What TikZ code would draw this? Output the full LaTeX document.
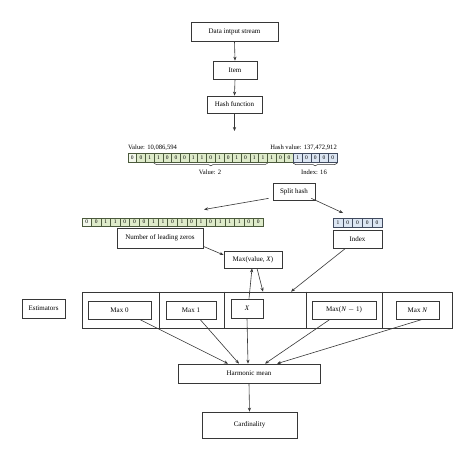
\documentclass[tikz,border=0pt]{standalone}
\usepackage{fontspec}
\setmainfont{Liberation Serif}
\usetikzlibrary{arrows.meta,decorations.pathreplacing,calc}
\definecolor{ln}{RGB}{55,55,55}
\definecolor{gfill}{RGB}{222,235,202}
\definecolor{gdraw}{RGB}{75,90,60}
\definecolor{bfill}{RGB}{220,230,243}
\definecolor{bdraw}{RGB}{65,75,95}
\begin{document}
\begin{tikzpicture}[x=1pt,y=-1pt,
  box/.style={draw=ln, line width=0.7pt, fill=white, inner sep=0pt, font=\fontsize{7}{8}\selectfont},
  gbit/.style={draw=gdraw, fill=gfill, line width=0.5pt, inner sep=0pt, font=\fontsize{5.5}{5.5}\selectfont},
  bbit/.style={draw=bdraw, fill=bfill, line width=0.5pt, inner sep=0pt, font=\fontsize{5.5}{5.5}\selectfont},
  lbl/.style={inner sep=0pt, font=\fontsize{6.6}{7}\selectfont},
  arr/.style={draw=ln, line width=0.6pt, -{Stealth[length=4pt,width=3.2pt]}},
  brc/.style={draw=ln, line width=0.5pt, decorate, decoration={brace, mirror, amplitude=2.5pt}}]
\useasboundingbox (0,0) rectangle (474,461);
\fill[white] (0,0) rectangle (474,461);

% top chain
\node[box, minimum width=87pt, minimum height=19pt] (din) at (234.5,31.5) {Data intput stream};
\node[box, minimum width=44pt, minimum height=18pt] (item) at (235,70) {Item};
\node[box, minimum width=55pt, minimum height=17pt] (hash) at (234.5,104.5) {Hash function};
\coordinate (hashend) at (234.5,131);

% first bit row
\foreach \b [count=\i] in {0,0,1,1,0,0,0,1,1,0,1,0,1,0,1,1,1,0,0,1,0,0,0,0} {
  \pgfmathsetmacro{\cx}{128+8.708*(\i-0.5)}
  \ifnum\i<20
    \ifnum\i=1
      \node[gbit, fill=gfill!35, minimum width=8.708pt, minimum height=9pt] (t\i) at (\cx,157.5) {\b};
    \else
      \node[gbit, minimum width=8.708pt, minimum height=9pt] (t\i) at (\cx,157.5) {\b};
    \fi
  \else
    \node[bbit, minimum width=8.708pt, minimum height=9pt] (t\i) at (\cx,157.5) {\b};
  \fi
}
\node[lbl, anchor=south west] (vlab) at (128,151) {Value: 10,086,594};
\node[lbl, anchor=south east] (hlab) at (337,151) {Hash value: 137,472,912};
\draw[brc] ($(t4.south west)+(0,1)$) -- ($(t16.south east)+(0,1)$);
\node[lbl] (v2) at (210,172.5) {Value: 2};
\draw[brc] ($(t20.south west)+(0,1)$) -- ($(t24.south east)+(0,1)$);
\node[lbl] (i16) at (314,172.5) {Index: 16};

\node[box, minimum width=42pt, minimum height=17pt] (split) at (294,191.5) {Split hash};

% second bit rows
\foreach \b [count=\i] in {0,0,1,1,0,0,0,1,1,0,1,0,1,0,1,1,1,0,0} {
  \pgfmathsetmacro{\cx}{82+9.526*(\i-0.5)}
  \ifnum\i=1
    \node[gbit, fill=gfill!35, minimum width=9.526pt, minimum height=8.5pt] (b\i) at (\cx,222) {\b};
  \else
    \node[gbit, minimum width=9.526pt, minimum height=8.5pt] (b\i) at (\cx,222) {\b};
  \fi
}
\foreach \b [count=\i] in {1,0,0,0,0} {
  \pgfmathsetmacro{\cx}{333+9.8*(\i-0.5)}
  \node[bbit, minimum width=9.8pt, minimum height=8.5pt] (c\i) at (\cx,222.5) {\b};
}

\node[box, minimum width=86pt, minimum height=20pt] (nlz) at (160,238) {Number of leading zeros};
\node[box, minimum width=49pt, minimum height=18pt] (index) at (357.5,239) {Index};
\node[box, minimum width=58pt, minimum height=17pt] (maxv) at (253,259.5) {Max(value, \textit{X})};

% estimators
\node[box, minimum width=43pt, minimum height=19pt] (est) at (43.5,308.5) {Estimators};
\node[box, minimum width=370pt, minimum height=36pt] (frame) at (267,310) {};
\foreach \xx in {159,224,306,382} {
  \draw[ln, line width=0.7pt] (\xx,0 |- frame.north) -- (\xx,0 |- frame.south);
}
\node[box, minimum width=63pt, minimum height=18pt] (max0) at (119.5,310) {Max 0};
\node[box, minimum width=50pt, minimum height=18pt] (max1) at (191,310) {Max 1};
\node[box, minimum width=32pt, minimum height=19pt] (xb) at (247,308.5) {\textit{X}};
\node[box, minimum width=64pt, minimum height=18pt] (maxn1) at (344,310) {Max(\textit{N} $-$ 1)};
\node[box, minimum width=43pt, minimum height=18pt] (maxn) at (417.5,310) {Max \textit{N}};

\node[box, minimum width=142pt, minimum height=19pt] (hm) at (249,373.5) {Harmonic mean};
\node[box, minimum width=95pt, minimum height=26pt] (card) at (249.5,425) {Cardinality};

% connectors
\draw[arr] (din.south) -- (item.north);
\draw[arr] (item.south) -- (hash.north);
\draw[arr] (hash.south) -- (hashend);
\draw[arr] ($(split.south west)+(-4,-2)$) -- ($(b13.north)+(3,-8)$);
\draw[arr] ($(split.south east)+(-4,-2)$) -- ($(c1.north east)+(0,-5)$);
\draw[arr] ($(nlz.south east)+(0,-2)$) -- ($(maxv.west)+(0,-4.5)$);
\draw[arr] ($(index.south)+(-12,0)$) -- ($(frame.north)+(24,0)$);
\draw[arr] ($(xb.north)+(2,0)$) -- ($(maxv.south)+(-1,0)$);
\draw[arr] ($(maxv.south)+(4,0)$) -- ($(frame.north)+(-4,0)$);
\draw[arr] ($(max0.south)+(20,0)$) -- ($(hm.north)+(-21,0)$);
\draw[arr] ($(max1.south)+(9,0)$) -- ($(hm.north)+(-10,0)$);
\draw[arr] (xb.south) -- ($(hm.north)+(-1,0)$);
\draw[arr] ($(maxn1.south)+(-14,0)$) -- ($(hm.north)+(16,0)$);
\draw[arr] ($(maxn.south)+(5,0)$) -- ($(hm.north)+(28,0)$);
\draw[arr] (hm.south) -- (card.north);
\end{tikzpicture}
\end{document}
